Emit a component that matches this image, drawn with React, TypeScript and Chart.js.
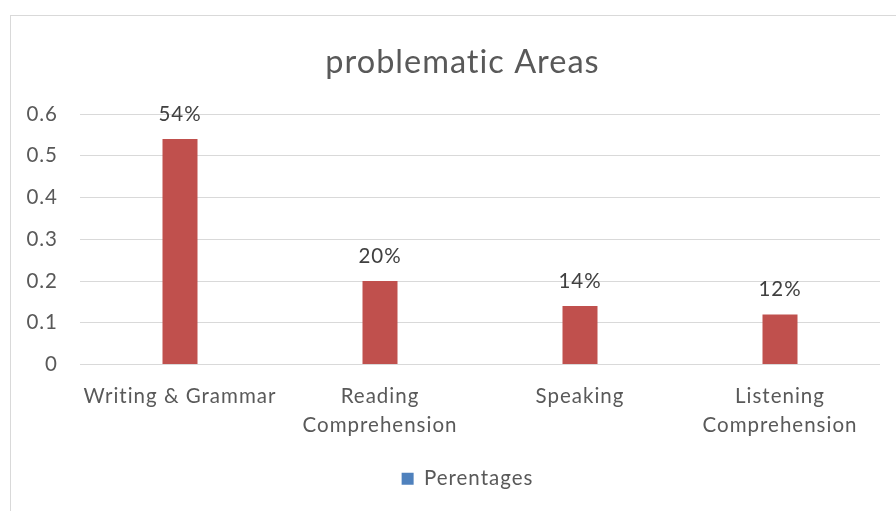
import React, { useEffect, useRef } from "react";
import { Chart, registerables } from "chart.js";

Chart.register(...registerables);

const categories: (string | string[])[] = [
  "Writing & Grammar",
  ["Reading", "Comprehension"],
  "Speaking",
  ["Listening", "Comprehension"],
];
const values = [0.54, 0.2, 0.14, 0.12];
const valueLabels = ["54%", "20%", "14%", "12%"];
const seriesName = "Perentages";
const chartTitle = "problematic Areas";

const FONT = "Lato, 'Open Sans', sans-serif";
const TEXT = "#595959";

const spacingPlugin = {
  id: "spacing",
  beforeInit(chart: any) {
    chart.ctx.letterSpacing = "1px";
  },
  beforeDraw(chart: any) {
    chart.ctx.letterSpacing = "1px";
  },
};

const dataLabelPlugin = {
  id: "dataLabels",
  afterDatasetsDraw(chart: any) {
    const ctx = chart.ctx;
    const meta = chart.getDatasetMeta(0);
    ctx.save();
    ctx.font = `20.5px ${FONT}`;
    ctx.fillStyle = "#404040";
    ctx.textAlign = "center";
    ctx.textBaseline = "middle";
    meta.data.forEach((bar: any, i: number) => {
      ctx.fillText(valueLabels[i], bar.x, bar.y - 25);
    });
    ctx.restore();
  },
};

export default function App() {
  const ref = useRef<HTMLCanvasElement>(null);
  useEffect(() => {
    if (!ref.current) return;
    const chart = new Chart(ref.current, {
      type: "bar",
      data: {
        labels: categories,
        datasets: [
          {
            label: seriesName,
            data: values,
            backgroundColor: "#c0504d",
            barPercentage: 0.175,
            categoryPercentage: 1,
          },
        ],
      },
      options: {
        animation: false,
        responsive: false,
        maintainAspectRatio: false,
        layout: { padding: { left: 0, right: 0, top: 0, bottom: 12 } },
        plugins: {
          title: {
            display: true,
            text: chartTitle,
            color: TEXT,
            font: { family: FONT, size: 32.5, weight: "normal", lineHeight: 1.2 },
            padding: { top: 27, bottom: 32 },
          },
          legend: {
            position: "bottom",
            labels: {
              color: TEXT,
              font: { family: FONT, size: 20.5 },
              boxWidth: 12,
              boxHeight: 12,
              padding: 10,
              generateLabels: () => [
                {
                  text: seriesName,
                  fillStyle: "#4f81bd",
                  strokeStyle: "#4f81bd",
                  lineWidth: 0,
                  fontColor: TEXT,
                  datasetIndex: 0,
                } as any,
              ],
            },
          },
          tooltip: { enabled: false },
        },
        scales: {
          x: {
            grid: { display: false },
            border: { display: false },
            afterFit: (scale: any) => {
              scale.height = 94;
            },
            ticks: {
              color: TEXT,
              font: { family: FONT, size: 20.5, lineHeight: 1.42 },
              padding: 9,
              maxRotation: 0,
              autoSkip: false,
            },
          },
          y: {
            min: 0,
            max: 0.6,
            border: { display: false },
            grid: { color: "#d9d9d9", drawTicks: false },
            afterFit: (scale: any) => {
              scale.width = 69;
            },
            ticks: {
              stepSize: 0.1,
              color: TEXT,
              font: { family: FONT, size: 20.5 },
              padding: 22,
              callback: (v: any) => String(Math.round(Number(v) * 10) / 10),
            },
          },
          yRight: {
            position: "right",
            min: 0,
            max: 0.6,
            border: { display: false },
            grid: { display: false, drawTicks: false },
            ticks: { display: false },
            afterFit: (scale: any) => {
              scale.width = 34;
            },
          },
        },
      },
      plugins: [spacingPlugin, dataLabelPlugin],
    });
    return () => chart.destroy();
  }, []);
  return (
    <div
      style={{
        position: "fixed",
        left: 0,
        top: 0,
        width: 896,
        height: 511,
        overflow: "hidden",
        background: "#fff",
      }}
    >
      <div
        style={{
          position: "absolute",
          left: 10,
          top: 15,
          width: 904,
          height: 510,
          border: "1px solid #d9d9d9",
          background: "#fff",
        }}
      >
        <canvas ref={ref} width={903} height={495} style={{ display: "block" }} />
      </div>
    </div>
  );
}
